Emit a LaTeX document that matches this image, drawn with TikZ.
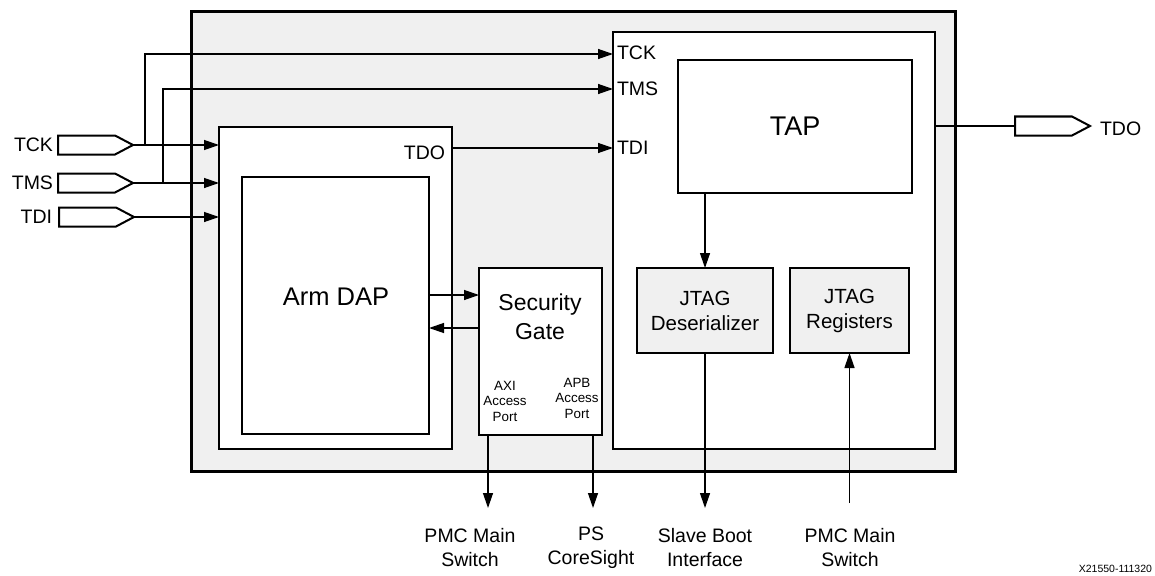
\documentclass[tikz,border=0pt]{standalone}
\usepackage{fontspec}
\setmainfont{Liberation Sans}
\usetikzlibrary{arrows.meta,calc}
\definecolor{panel}{HTML}{F0F0F0}
\begin{document}
\begin{tikzpicture}[x=1pt,y=-1pt,
  every node/.style={inner sep=0pt, outer sep=0pt},
  blk/.style={draw, line width=2.2pt, fill=white, inner sep=0pt},
  conn/.style={line width=1.3pt},
  arr/.style={conn, -{Triangle[length=15pt,width=10pt]}},
  lab/.style={font=\fontsize{19.5}{24}\selectfont, align=center},
  small/.style={font=\fontsize{13.4}{15.5}\selectfont, align=center},
  port/.pic={\draw[line width=2pt, fill=white, line join=miter] (-75,-9.5) -- (-18,-9.5) -- (0,0) -- (-18,9.5) -- (-75,9.5) -- cycle;
             \coordinate (-tip) at (0,0); \coordinate (-tail) at (-75,0);}
]
\useasboundingbox (0,0) rectangle (1155,575);

% boxes
\node[draw, line width=3pt, fill=panel, minimum width=764pt, minimum height=459pt] (outer) at (573,241.5) {};
\node[blk, minimum width=322pt, minimum height=417pt] (tapreg) at (774,240.5) {};
\node[blk, minimum width=234pt, minimum height=133pt, font=\fontsize{27}{30}\selectfont] (tap) at (795,126.5) {TAP};
\node[blk, fill=panel, minimum width=136pt, minimum height=85pt, align=center, font=\fontsize{20.5}{25}\selectfont] (deser) at (705,310.5) {JTAG\\Deserializer};
\node[blk, fill=panel, minimum width=119pt, minimum height=85pt, align=center, font=\fontsize{20.5}{25}\selectfont] (regs) at (849.5,310.5) {JTAG\\Registers};
\node[blk, minimum width=233pt, minimum height=322pt] (dapo) at (335.5,288) {};
\node[blk, minimum width=187pt, minimum height=257pt] (dapi) at (335.5,305.5) {};
\node[font=\fontsize{25.5}{30}\selectfont] (dapl) at (336,297) {Arm DAP};
\node[blk, minimum width=123pt, minimum height=167pt] (sec) at (540.5,351.5) {};
\node[align=center, font=\fontsize{23}{29}\selectfont] (secl) at (540,317) {Security\\Gate};
\node[small] (axil) at (505,401) {AXI\\Access\\Port};
\node[small] (apbl) at (577,398) {APB\\Access\\Port};
\node[lab, anchor=east] (tdol) at (445,153) {TDO};

% ports
\pic (tck) at (133,145) {port};
\pic (tms) at (133,183) {port};
\pic (tdi) at (134,217) {port};
\pic (tdo) at (1090,126) {port};
\node[lab, anchor=east] (tckl) at (53,145) {TCK};
\node[lab, anchor=east] (tmsl) at (53,183) {TMS};
\node[lab, anchor=east] (tdil) at (52,217) {TDI};
\node[lab, anchor=west] (tdoo) at (1100,129) {TDO};

% TAP region inputs
\node[lab, anchor=west] (tckr) at (617,53) {TCK};
\node[lab, anchor=west] (tmsr) at (617,89) {TMS};
\node[lab, anchor=west] (tdir) at (617,148) {TDI};

% connectors
\draw[arr] (tck-tip) -- (tck-tip -| dapo.west);
\draw[arr] (tms-tip) -- (tms-tip -| dapo.west);
\draw[arr] (tdi-tip) -- (tdi-tip -| dapo.west);
\coordinate (bk) at (145,145);
\coordinate (tckin) at (613,54);
\draw[arr] (bk) |- (tckin);
\coordinate (bm) at (163,183);
\coordinate (tmsin) at (613,89);
\draw[arr] (bm) |- (tmsin);
\coordinate (tdoa) at (452,148);
\draw[arr] (tdoa) -- (tdoa -| tapreg.west);
\coordinate (tapo) at (935,126);
\draw[conn] (tapo) -- (tdo-tail);

\draw[arr] (deser.north |- tap.south) -- (deser.north);
\coordinate (sbi) at (705,508);
\draw[arr] (deser.south) -- (sbi);
\coordinate (pmc2) at (849.5,503);
\draw[arr] (pmc2) -- (regs.south);

\coordinate (s1) at (429,295);
\draw[arr] (s1) -- (s1 -| sec.west);
\coordinate (s2) at (479,328);
\draw[arr] (s2) -- (s2 -| dapi.east);

\coordinate (axi) at (488,508);
\draw[arr] (axi |- sec.south) -- (axi);
\coordinate (apb) at (593,508);
\draw[arr] (apb |- sec.south) -- (apb);

% bottom labels
\node[lab] (b1) at (470,548) {PMC Main\\Switch};
\node[lab] (b2) at (591,548) {PS\\CoreSight};
\node[lab] (b3) at (705,548) {Slave Boot\\Interface};
\node[lab] (b4) at (850,548) {PMC Main\\Switch};

\node[anchor=south east, font=\fontsize{10.5}{12}\selectfont] (fig) at (1152,573) {X21550-111320};
\end{tikzpicture}
\end{document}
